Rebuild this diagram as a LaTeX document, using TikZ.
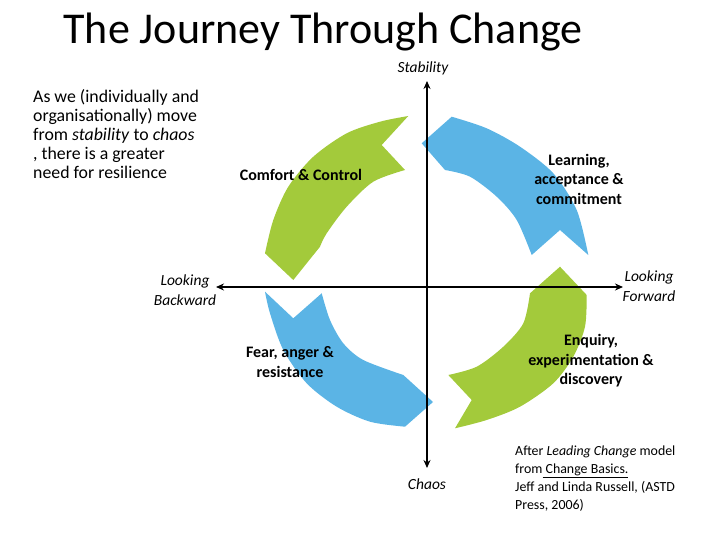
\documentclass[tikz,border=0pt]{standalone}
\usepackage{fontspec}
\setmainfont{Carlito}
\usetikzlibrary{arrows.meta}
\definecolor{grn}{HTML}{A3CA3B}
\definecolor{blu}{HTML}{5BB4E5}
\begin{document}
\begin{tikzpicture}[x=1pt,y=-1pt,
  axis/.style={line width=1.8pt,{Stealth[length=8pt,width=7pt]}-{Stealth[length=8pt,width=7pt]}},
  stage/.style={font=\fontsize{16}{19.5}\selectfont\bfseries,align=center,inner sep=0pt},
  pole/.style={font=\fontsize{15.5}{20}\selectfont\itshape,align=center,inner sep=0pt},
  para/.style={font=\fontsize{17.8}{19}\selectfont,align=left,anchor=north west,inner sep=0pt},
  cred/.style={font=\fontsize{13.9}{18}\selectfont,align=left,anchor=north west,inner sep=0pt}]
\useasboundingbox (0,0) rectangle (720,540);

% arrows of the cycle
\fill[grn] (408.3,116) -- (381.7,145) -- (405,170)
  -- plot[smooth] coordinates {(405,170) (373.3,181.7) (346.7,206.7) (326.7,233.3) (320,246.7)}
  -- (293.3,280) -- (265,253.3)
  -- plot[smooth] coordinates {(265,253.3) (273.3,220) (288.3,186.7) (313.3,156.7) (346.7,133.3) (380,121.7) (408.3,116)}
  -- cycle;
\fill[blu] (451.7,116.7) -- (421.7,143.3) -- (445,170)
  -- plot[smooth] coordinates {(445,170) (470,176.7) (496.7,196.7) (516.7,220) (531.7,255)}
  -- (560,230) -- (588.3,255)
  -- plot[smooth] coordinates {(588.3,255) (576.7,210) (553.3,173.3) (520,146.7) (486.7,128.3) (451.7,116.7)}
  -- cycle;
\fill[blu] (265,291.7) -- (293.3,318.3) -- (321.7,293.3)
  -- plot[smooth] coordinates {(321.7,293.3) (330,320) (343.3,343.3) (363.3,360) (403.3,375)}
  -- (433,402) -- (405,426.7)
  -- plot[smooth] coordinates {(405,426.7) (370,421.7) (336.7,406.7) (306.7,383.3) (283.3,350) (270,313.3) (265,291.7)}
  -- cycle;
\fill[grn] (530,293.3) -- (560,266.7) -- (586.7,295)
  -- plot[smooth] coordinates {(586.7,295) (585,326.7) (573.3,356.7) (553.3,383.3) (520,406.7) (486.7,420) (455,428.3)}
  -- (471.7,400) -- (448.3,375)
  -- plot[smooth] coordinates {(448.3,375) (476.7,366.7) (503.3,346.7) (523.3,323.3) (530,293.3)}
  -- cycle;

% axes
\coordinate (top) at (427,81);
\coordinate (bot) at (427,468);
\coordinate (lft) at (216,287);
\coordinate (rgt) at (623,287);
\draw[axis] (bot) -- (top);
\draw[axis] (lft) -- (rgt);

% texts
\node[font=\fontsize{44}{50}\selectfont,inner sep=0pt] (title) at (323,32) {The Journey Through Change};
\node[pole] (stab) at (423,68) {Stability};
\node[pole] (chaos) at (427,484) {Chaos};
\node[pole] (back) at (185,290) {Looking\\Backward};
\node[pole] (fwd) at (649,286) {Looking\\Forward};
\node[para] (intro) at (33,89) {As we (individually and\\organisationally) move\\from \textit{stability} to \textit{chaos}\\, there is a greater\\need for resilience};
\node[stage] (s1) at (301,175) {Comfort \& Control};
\node[stage] (s2) at (579,179) {Learning,\\acceptance \&\\commitment};
\node[stage] (s3) at (290,362) {Fear, anger \&\\resistance};
\node[stage] (s4) at (591,361) {Enquiry,\\experimentation \&\\discovery};
\node[cred] (credit) at (515,446) {After \textit{Leading Change} model\\from\underline{\ Change Basics.}\\Jeff and Linda Russell, (ASTD\\Press, 2006)};
\end{tikzpicture}
\end{document}
